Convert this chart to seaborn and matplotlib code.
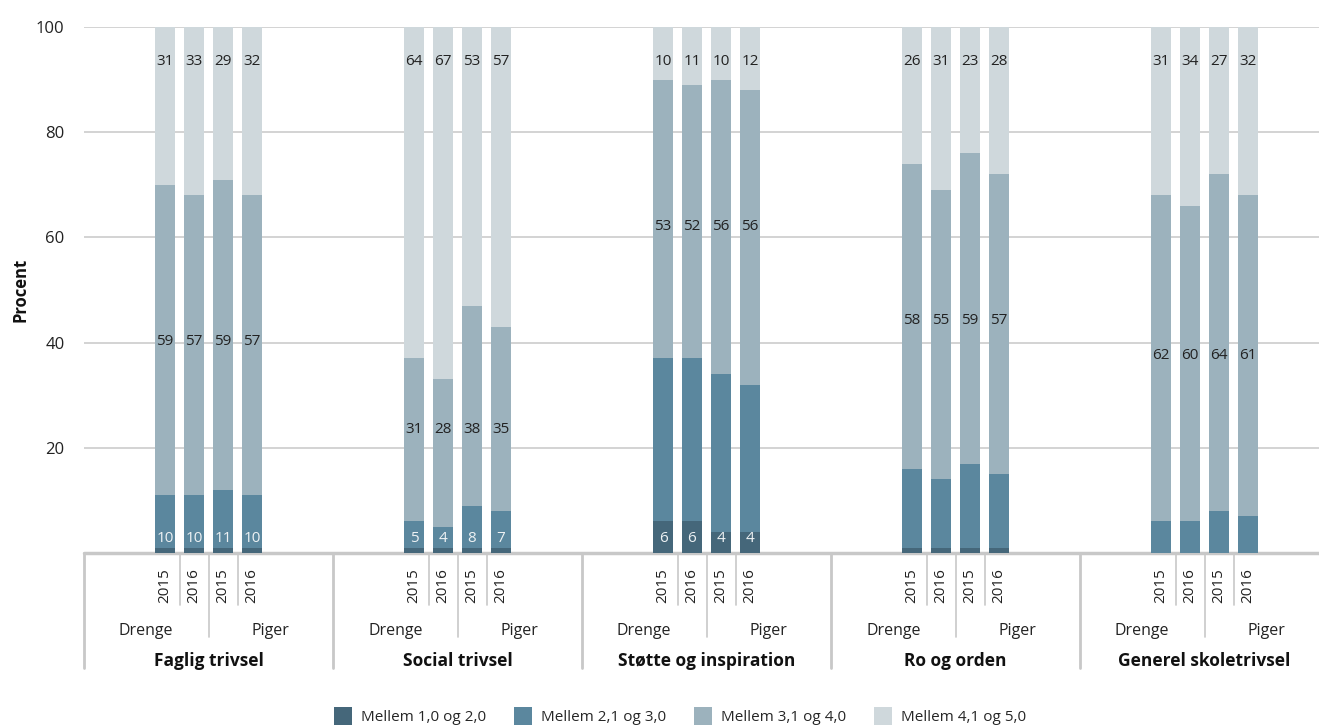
import numpy as np
import pandas as pd
import matplotlib
matplotlib.use("Agg")
import matplotlib.pyplot as plt
import matplotlib.transforms as mtransforms
from matplotlib.patches import Patch
import seaborn as sns

# ---------------- data ----------------
groups = ["Faglig trivsel", "Social trivsel", "Støtte og inspiration", "Ro og orden", "Generel skoletrivsel"]
genders = ["Drenge", "Piger"]
years = ["2015", "2016"]
series_names = ["Mellem 1,0 og 2,0", "Mellem 2,1 og 3,0", "Mellem 3,1 og 4,0", "Mellem 4,1 og 5,0"]

# bars per group: Drenge 2015, Drenge 2016, Piger 2015, Piger 2016
s1 = [[1, 1, 1, 1], [1, 1, 1, 1], [6, 6, 4, 4], [1, 1, 1, 1], [0, 0, 0, 0]]
s2 = [[10, 10, 11, 10], [5, 4, 8, 7], [31, 31, 30, 28], [15, 13, 16, 14], [6, 6, 8, 7]]
s3 = [[59, 57, 59, 57], [31, 28, 38, 35], [53, 52, 56, 56], [58, 55, 59, 57], [62, 60, 64, 61]]
s4 = [[31, 33, 29, 32], [64, 67, 53, 57], [10, 11, 10, 12], [26, 31, 23, 28], [31, 34, 27, 32]]

# which series carry a printed value label, per group
shown = [[False, True, True, True],
         [False, True, True, True],
         [True, False, True, True],
         [False, False, True, True],
         [False, False, True, True]]

colors = ["#45677a", "#5b879e", "#9cb2bd", "#cfd8dc"]

# ---------------- figure ----------------
sns.set_theme(style="white")
plt.rcParams['font.family'] = ['Open Sans', 'DejaVu Sans']

W, H = 1319, 727
fig = plt.figure(figsize=(W / 100, H / 100), dpi=100)
left_px, top_px, base_px = 84, 27, 553
ax = fig.add_axes([left_px / W, 1 - base_px / H, 1 - left_px / W, (base_px - top_px) / H])

G = 249 / 29  # group width in bar-spacing units
rows = []
for gi, g in enumerate(groups):
    c = (gi + 0.5) * G
    for bi in range(4):
        rows.append(dict(x=c + (bi - 1.5), group=gi, bar=bi,
                         v1=s1[gi][bi], v2=s2[gi][bi], v3=s3[gi][bi], v4=s4[gi][bi]))
df = pd.DataFrame(rows)
vcols = ["v1", "v2", "v3", "v4"]
cum = df[vcols].cumsum(axis=1)
# 100 % stacked: the top category fills the bar up to 100 (values are rounded)
cum["v4"] = np.maximum(cum["v4"], 100)

for k in reversed(range(4)):
    sns.barplot(x=df["x"], y=cum[vcols[k]], native_scale=True, orient="x", color=colors[k],
                saturation=1, width=0.72, errorbar=None, ax=ax, linewidth=0, zorder=2)

ax.set_xlim(0, (W - left_px) / 29)
ax.set_ylim(0, 100)
ax.set_xticks([])
ax.set_yticks([0, 20, 40, 60, 80, 100])
ax.set_yticklabels(["", "20", "40", "60", "80", "100"])
ax.tick_params(axis="y", length=0, pad=14, labelsize=12, labelcolor="#222222")
ax.yaxis.grid(True, color="#cccccc", lw=1.2, zorder=0)
ax.set_axisbelow(True)
for sp in ax.spines.values():
    sp.set_visible(False)
ax.set_xlabel("")
ax.set_ylabel("Procent", fontweight="bold", fontsize=12, color="#111111")
ax.yaxis.set_label_coords((30 - left_px) / (W - left_px), 0.5)
ax.axhline(0, color="#c8c8c8", lw=2.5, zorder=1, clip_on=False)

# ---------------- value labels ----------------
for gi in range(len(groups)):
    mask = df.group == gi
    sub = df[mask]
    sc = cum[mask]
    light_y = ((sc["v2"] + sc["v3"]) / 2).mean()
    for _, r in sub.iterrows():
        if shown[gi][0]:
            ax.text(r.x, 2.8, f"{int(r.v1)}", ha="center", va="center", fontsize=11, color="#eef2f4", zorder=3)
        if shown[gi][1]:
            ax.text(r.x, 2.8, f"{int(r.v2)}", ha="center", va="center", fontsize=11, color="#eef2f4", zorder=3)
        if shown[gi][2]:
            ax.text(r.x, light_y, f"{int(r.v3)}", ha="center", va="center", fontsize=11, color="#222222", zorder=3)
        if shown[gi][3]:
            ax.text(r.x, 93.4, f"{int(r.v4)}", ha="center", va="center", fontsize=11, color="#222222", zorder=3)

# ---------------- hierarchical x axis ----------------
trans = mtransforms.blended_transform_factory(ax.transData, ax.transAxes)
ah = base_px - top_px
def ay(px):
    return (base_px - px) / ah

lc = "#c8c8c8"
for gi, g in enumerate(groups):
    x0 = gi * G
    c = (gi + 0.5) * G
    ax.plot([x0, x0], [0, ay(668)], transform=trans, clip_on=False, color=lc, lw=2)
    ax.plot([c, c], [0, ay(637)], transform=trans, clip_on=False, color=lc, lw=1.2)
    for d in (-1, 1):
        ax.plot([c + d, c + d], [0, ay(605)], transform=trans, clip_on=False, color=lc, lw=1.2)
    for bi in range(4):
        ax.text(c + (bi - 1.5), ay(568), years[bi % 2], rotation=90, ha="center", va="top",
                transform=trans, fontsize=11, color="#222222")
    ax.text((x0 + c) / 2, ay(631), genders[0], ha="center", va="center", transform=trans,
            fontsize=11.5, color="#222222")
    ax.text((c + x0 + G) / 2, ay(631), genders[1], ha="center", va="center", transform=trans,
            fontsize=11.5, color="#222222")
    ax.text(c, ay(661), g, ha="center", va="center", transform=trans,
            fontsize=12.5, fontweight="bold", color="#111111")

# ---------------- legend ----------------
handles = [Patch(facecolor=colors[k], edgecolor="none") for k in range(4)]
fig.legend(handles, series_names, loc="center", bbox_to_anchor=(680 / W, 1 - 716 / H), ncol=4,
           frameon=False, handlelength=1.2, handleheight=1.4, handletextpad=0.6,
           columnspacing=1.8, fontsize=11)

fig.savefig("out.png", dpi=100)
